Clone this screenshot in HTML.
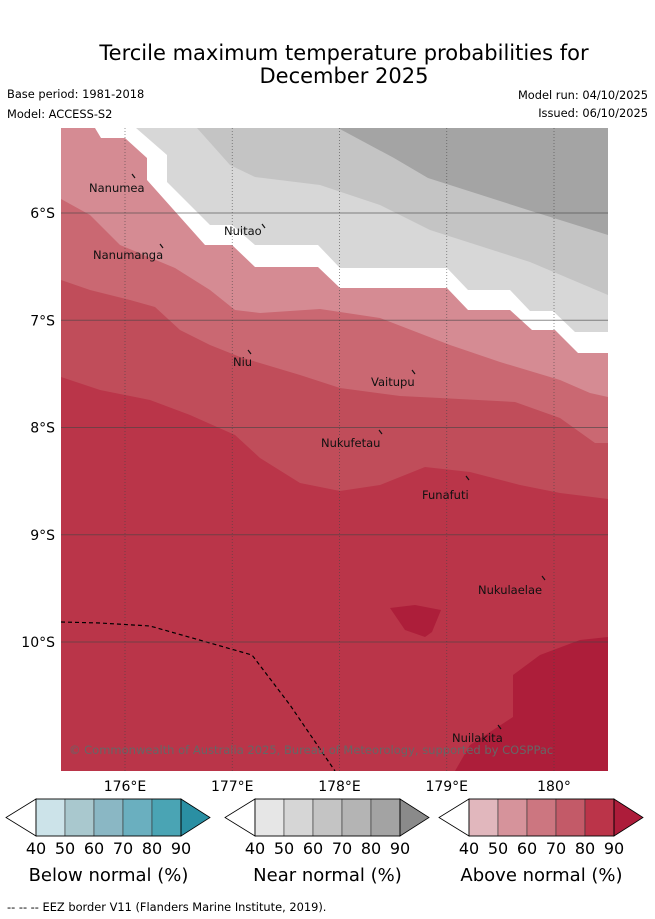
<!DOCTYPE html>
<html><head><meta charset="utf-8"><style>
body{margin:0;background:#fff;width:655px;height:919px;overflow:hidden;font-family:"DejaVu Sans","Liberation Sans",sans-serif}
svg{display:block;font-family:"DejaVu Sans","Liberation Sans",sans-serif}
</style></head><body>
<svg id="s" width="655" height="919" xmlns="http://www.w3.org/2000/svg">
<text x="344" y="60" text-anchor="middle" font-size="21">Tercile maximum temperature probabilities for</text>
<text x="344" y="83" text-anchor="middle" font-size="21">December 2025</text>
<text x="7" y="98" font-size="11.4">Base period: 1981-2018</text>
<text x="7" y="118" font-size="11.4">Model: ACCESS-S2</text>
<text x="648" y="99" font-size="11.4" text-anchor="end">Model run: 04/10/2025</text>
<text x="648" y="117" font-size="11.4" text-anchor="end">Issued: 06/10/2025</text>
<defs><clipPath id="mc"><rect x="61" y="128" width="547" height="643"/></clipPath></defs>
<g id="map" clip-path="url(#mc)"></g>
<g id="grid"></g>
<g id="labels"></g>
<text x="69" y="754" font-size="11.5" fill="#666">© Commonwealth of Australia 2025, Bureau of Meteorology, supported by COSPPac</text>
<g id="axes"></g>
<g id="cbars"></g>
<text x="7" y="911" font-size="11.4">--  --  -- EEZ border V11 (Flanders Marine Institute, 2019).</text>
</svg>
<script>
const lonTicks=[176,177,178,179,180];
const lonLabels=["176°E","177°E","178°E","179°E","180°"];
const latTicks=[6,7,8,9,10];
const latLabels=["6°S","7°S","8°S","9°S","10°S"];
const bandColors=["#a4a4a4","#c4c4c4","#d7d7d7","#ffffff","#d58b93","#ca6872","#c04d5a","#ba3549"];
const bnd1=[[338,128],[394,158],[428,178],[528,210],[608,235]];
const bnd2=[[197,128],[230,165],[255,177],[320,185],[380,205],[430,230],[530,262],[608,295]];
const bnd3=[[136,128],[167,155],[167,182],[210,225],[232,225],[255,245],[318,245],[340,268],[447,268],[468,290],[510,290],[530,311],[553,311],[575,332],[608,332]];
const bnd4=[[95,128],[101,138],[125,138],[147,158],[147,180],[205,245],[232,245],[255,267],[318,267],[340,288],[447,288],[468,310],[510,310],[532,330],[555,330],[578,353],[608,353]];
const bnd5=[[61,199],[90,215],[120,245],[175,268],[210,290],[235,310],[260,313],[320,309],[380,318],[450,345],[500,362],[560,380],[590,393],[608,397]];
const bnd6=[[61,280],[90,290],[130,300],[155,307],[180,330],[210,345],[240,357],[300,375],[340,388],[400,396],[440,398],[515,402],[560,418],[595,443],[608,443]];
const bnd7=[[61,377],[100,390],[150,400],[190,415],[235,435],[260,458],[300,483],[340,491],[380,485],[425,467],[470,472],[520,485],[560,493],[608,499]];
const patch1=[[390,608],[415,605],[441,610],[432,632],[425,637],[405,630]];
const patch2=[[455,771],[470,745],[513,717],[513,675],[540,655],[580,640],[608,637],[608,771]];
const eez=[[61,622],[100,623],[150,626],[210,643],[252,655],[290,705],[335,771]];
const islands=[["Nanumea",89,192,134,176],["Nuitao",224,235,264,226],["Nanumanga",93,259,162,246],["Niu",233,366,250,352],["Vaitupu",371,386,414,372],["Nukufetau",321,447,381,432],["Funafuti",422,499,468,478],["Nukulaelae",478,594,544,578],["Nuilakita",452,742,500,727]];
const pxLon=x=>176+(x-125)/107.25, pxLat=y=>6+(y-213)/107.25;
const X=lon=>125+(lon-176)*107.25, Y=lat=>213+(lat-6)*107.25;
const toGeo=a=>a.map(p=>[pxLon(p[0]),pxLat(p[1])]);
const NS="http://www.w3.org/2000/svg";
function mk(t,at,parent){const e=document.createElementNS(NS,t);for(const k in at)e.setAttribute(k,at[k]);parent.appendChild(e);return e;}
const map=document.getElementById('map');
const bg=mk('rect',{x:61,y:128,width:547,height:643,fill:bandColors[0]},map);


const bnds=[bnd1,bnd2,bnd3,bnd4,bnd5,bnd6,bnd7];
const names=['near-normal-70-band','near-normal-60-band','below-40-gap-band','above-normal-50-band','above-normal-60-band','above-normal-70-band','above-normal-80-band'];
function ptsStr(g){return g.map(p=>X(p[0]).toFixed(1)+','+Y(p[1]).toFixed(1)).join(' ');}
bnds.forEach((b,i)=>{
 const g=toGeo(b);
 const first=g[0], last=g[g.length-1];
 const fixed=first[0]>pxLon(61)?[...g,[last[0],pxLat(771)],[pxLon(61),pxLat(771)],[pxLon(61),pxLat(128)]]:[...g,[last[0],pxLat(771)],[pxLon(61),pxLat(771)]];
 const e=mk('polygon',{points:ptsStr(fixed),fill:bandColors[i+1]},map);
 
 
});
[patch1,patch2].forEach((p,i)=>{
 const e=mk('polygon',{points:ptsStr(toGeo(p)),fill:"#ad1e3a"},map);
 
 
});
const ez=mk('polyline',{points:ptsStr(toGeo(eez)),fill:"none",stroke:"#000","stroke-width":1.2,"stroke-dasharray":"4,3"},map);


const grid=document.getElementById('grid'), axes=document.getElementById('axes');
lonTicks.forEach((t,i)=>{
 const l=mk('line',{x1:X(t),x2:X(t),y1:128,y2:771,stroke:"#444","stroke-width":0.8,"stroke-dasharray":"1,2",opacity:0.7},grid);
 
 
 const tx=mk('text',{x:X(t),y:791,"text-anchor":"middle","font-size":14},axes);tx.textContent=lonLabels[i];
 
 
});
latTicks.forEach((t,i)=>{
 const l=mk('line',{x1:61,x2:608,y1:Y(t),y2:Y(t),stroke:"#444","stroke-width":0.9,opacity:0.6},grid);
 
 
 const tx=mk('text',{x:55,y:Y(t)+5,"text-anchor":"end","font-size":14},axes);tx.textContent=latLabels[i];
 
 
});
const lab=document.getElementById('labels');
islands.forEach(d=>{
 const t=mk('text',{x:d[1],y:d[2],"font-size":11.5,fill:"#111"},lab);t.textContent=d[0];
 
 
 const m=mk('line',{x1:d[3]-2,y1:d[4]-2,x2:d[3]+1,y2:d[4]+2,stroke:"#111","stroke-width":1.2},lab);
 
 
});
const cbTicks=["40","50","60","70","80","90"];
const cbSets=[
 {x:6,title:"Below normal (%)",cols:["#cce3e9","#a9c8ce","#8ab7c4","#6aafbf","#4aa4b4","#2a8fa3"]},
 {x:225,title:"Near normal (%)",cols:["#e6e6e6","#d6d6d6","#c4c4c4","#b4b4b4","#a3a3a3","#8a8a8a"]},
 {x:439,title:"Above normal (%)",cols:["#e1b7bd","#d6939b","#cc7680","#c35a68","#bb3449","#ad1c3a"]}];
const cb=document.getElementById('cbars');
cbSets.forEach((s,k)=>{
 const g=mk('g',{},cb);
 
 
 const x0=s.x+30,y0=799,h=37,w=29;
 mk('polygon',{points:`${x0},${y0} ${s.x},${y0+h/2} ${x0},${y0+h}`,fill:"#fff",stroke:"#000","stroke-width":0.8},g);
 for(let i=0;i<5;i++) mk('rect',{x:x0+i*w,y:y0,width:w,height:h,fill:s.cols[i],stroke:"#333","stroke-width":0.6},g);
 const xe=x0+5*w;
 mk('polygon',{points:`${xe},${y0} ${xe+29},${y0+h/2} ${xe},${y0+h}`,fill:s.cols[5],stroke:"#000","stroke-width":0.8},g);
 mk('rect',{x:x0,y:y0,width:5*w,height:h,fill:"none",stroke:"#000","stroke-width":0.8},g);
 cbTicks.forEach((t,i)=>{const tx=mk('text',{x:x0+i*w,y:854,"text-anchor":"middle","font-size":16},g);tx.textContent=t;
  
  });
 const tt=mk('text',{x:x0+2.5*w,y:881,"text-anchor":"middle","font-size":18},g);tt.textContent=s.title;
 
 
});
</script>
</body></html>
